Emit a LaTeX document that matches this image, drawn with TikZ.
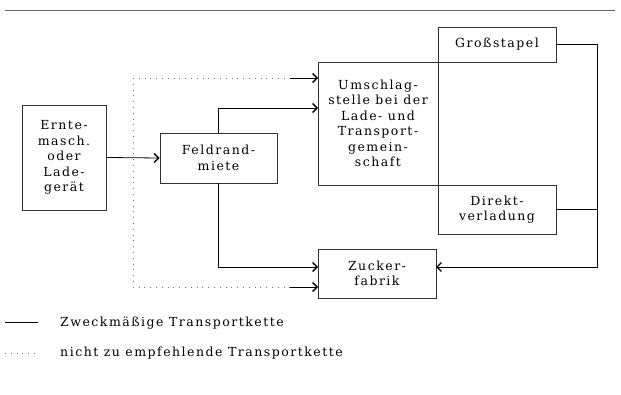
\documentclass[tikz,border=0pt]{standalone}
\usepackage{fontspec}
\setmainfont{DejaVu Serif}[LetterSpace=12]
\usetikzlibrary{arrows.meta}
\begin{document}
\begin{tikzpicture}[x=1pt,y=-1pt,
  box/.style={draw=black!80,line width=0.8pt,inner sep=0pt,align=center,
    font=\fontsize{12.5}{15.5}\selectfont},
  arr/.style={line width=0.8pt,-{Straight Barb[length=4.5pt,width=9pt,line width=1.4pt]}},
  conn/.style={line width=0.8pt},
  dots/.style={line width=0.8pt,black!55,dash pattern=on 0.8pt off 5pt},
  legend/.style={anchor=west,inner sep=0pt,font=\fontsize{12.5}{14}\selectfont}]
\useasboundingbox (0,0) rectangle (621,395);
\draw[black!60,line width=0.6pt] (5,10) -- (615,10);
% boxes
\node[box,minimum width=84pt,minimum height=105pt] (ernte) at (64,157.5) {Ernte-\\masch.\\oder\\Lade-\\gerät};
\node[box,minimum width=117pt,minimum height=50pt] (feld) at (218.5,158) {Feldrand-\\miete};
\node[box,minimum width=120pt,minimum height=123pt] (umsch) at (378,123.5) {Umschlag-\\stelle bei der\\Lade- und\\Transport-\\gemein-\\schaft};
\node[box,minimum width=118pt,minimum height=35pt] (gross) at (497,44.5) {Großstapel};
\node[box,minimum width=118pt,minimum height=49pt] (direkt) at (497,209.5) {Direkt-\\verladung};
\node[box,minimum width=118pt,minimum height=49pt] (zucker) at (377,273.5) {Zucker-\\fabrik};
% coordinates
\coordinate (u1) at (318,108);
\coordinate (u0s) at (290,78);
\coordinate (u0) at (318,78);
\coordinate (z1) at (318,267);
\coordinate (z2s) at (290,287);
\coordinate (z2) at (318,287);
\coordinate (z3) at (436,267);
\coordinate (r2) at (597,267);
\coordinate (dt) at (133,78);
\coordinate (db) at (133,287);
% dotted chain
\draw[dots] (dt) -- (u0s);
\draw[dots] (dt) -- (db) -- (z2s);
% solid connectors
\draw[arr] (ernte.east) -- (feld.west);
\draw[arr] (feld.north) |- (u1);
\draw[arr] (feld.south) |- (z1);
\draw[arr] (u0s) -- (u0);
\draw[arr] (z2s) -- (z2);
\draw[arr] (gross.east) -| (r2) -- (z3);
\draw[conn] (direkt.east) -- (direkt.east -| r2);
% legend
\coordinate (la) at (5,322);
\coordinate (lb) at (38,322);
\coordinate (lc) at (5,353);
\coordinate (ld) at (38,353);
\draw[line width=0.8pt] (la) -- (lb);
\draw[dots] (lc) -- (ld);
\node[legend] (t1) at (60,323) {Zweckmäßige Transportkette};
\node[legend] (t2) at (60,353) {nicht zu empfehlende Transportkette};
\end{tikzpicture}
\end{document}
